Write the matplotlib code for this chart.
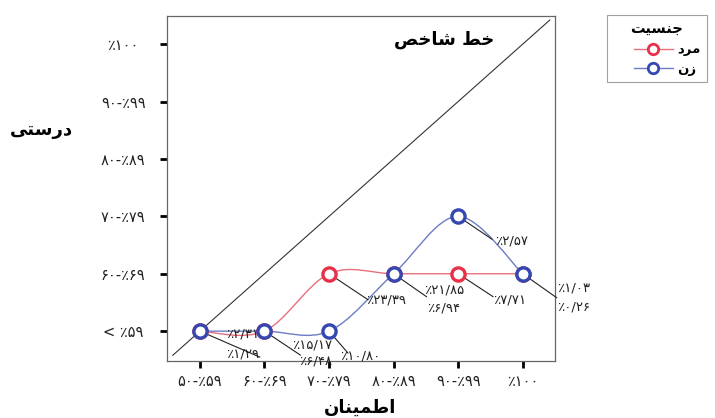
import matplotlib
matplotlib.use('Agg')
import matplotlib.pyplot as plt
from matplotlib.path import Path
from matplotlib.patches import PathPatch
from matplotlib.lines import Line2D
from matplotlib.legend_handler import HandlerLine2D

# ---------------- data ----------------
x_labels = ['۵۰-٪۵۹', '۶۰-٪۶۹', '۷۰-٪۷۹', '۸۰-٪۸۹', '۹۰-٪۹۹', '٪۱۰۰']
y_labels = ['< ٪۵۹', '۶۰-٪۶۹', '۷۰-٪۷۹', '۸۰-٪۸۹', '۹۰-٪۹۹', '٪۱۰۰']

male_x = [0, 1, 2, 3, 4, 5]
male_y = [0, 0, 1, 1, 1, 1]
female_x = [0, 1, 2, 3, 4, 5]
female_y = [0, 0, 0, 1, 2, 1]

ann_x = [0, 1, 2, 2, 3, 4, 4, 5]
ann_y = [0, 0, 0, 1, 1, 1, 2, 1]
ann_text = [['٪۲/۳۱', '٪۱/۲۹'], ['٪۱۵/۱۷', '٪۶/۴۸'], ['٪۱۰/۸۰'], ['٪۲۳/۳۹'],
            ['٪۲۱/۸۵', '٪۶/۹۴'], ['٪۷/۷۱'], ['٪۲/۵۷'], ['٪۱/۰۳', '٪۰/۲۶']]

diag = [-0.42, 5.42]

title_txt = 'خط شاخص'
ylabel_txt = 'درستی'
xlabel_txt = 'اطمینان'
legend_title = 'جنسیت'
male_label = 'مرد'
female_label = 'زن'

# ---------------- layout (pixels) ----------------
lead_off = [(60, -26), (36, -24), (19, -22), (39, -26), (33, -23), (35, -23), (34, -23), (34, -24)]
text_off = [[(43, -3), (43, -23)], [(48, -14), (51, -30)], [(31, -25)], [(57, -26)],
            [(51, -16), (50, -34)], [(51, -26)], [(53, -25)], [(51, -14), (51, -33)]]

# ---------------- minimal Arabic shaping ----------------
FORMS = {
    'ا': (0xFE8D, 0xFE8E, None, None),
    'د': (0xFEA9, 0xFEAA, None, None),
    'ر': (0xFEAD, 0xFEAE, None, None),
    'ز': (0xFEAF, 0xFEB0, None, None),
    'ط': (0xFEC1, 0xFEC2, 0xFEC3, 0xFEC4),
    'م': (0xFEE1, 0xFEE2, 0xFEE3, 0xFEE4),
    'ن': (0xFEE5, 0xFEE6, 0xFEE7, 0xFEE8),
    'س': (0xFEB1, 0xFEB2, 0xFEB3, 0xFEB4),
    'ش': (0xFEB5, 0xFEB6, 0xFEB7, 0xFEB8),
    'ت': (0xFE95, 0xFE96, 0xFE97, 0xFE98),
    'خ': (0xFEA5, 0xFEA6, 0xFEA7, 0xFEA8),
    'ج': (0xFE9D, 0xFE9E, 0xFE9F, 0xFEA0),
    'ص': (0xFEB9, 0xFEBA, 0xFEBB, 0xFEBC),
    'ی': (0xFEEF, 0xFEF0, 0xFEF3, 0xFEF4),
}


def shape(text):
    out = []
    for i, c in enumerate(text):
        if c not in FORMS:
            out.append(c)
            continue
        f = FORMS[c]
        prev = text[i - 1] if i > 0 else None
        nxt = text[i + 1] if i + 1 < len(text) else None
        jp = prev in FORMS and FORMS[prev][2] is not None
        jn = f[2] is not None and nxt in FORMS
        if jp and jn:
            g = f[3]
        elif jp:
            g = f[1]
        elif jn:
            g = f[2]
        else:
            g = f[0]
        out.append(chr(g))
    return ''.join(reversed(out))


def smooth_path(xs, ys):
    pts = list(zip(xs, ys))
    n = len(pts)
    verts = [pts[0]]
    codes = [Path.MOVETO]
    for i in range(n - 1):
        p0 = pts[max(i - 1, 0)]
        p1 = pts[i]
        p2 = pts[i + 1]
        p3 = pts[min(i + 2, n - 1)]
        c1 = (p1[0] + (p2[0] - p0[0]) / 6.0, p1[1] + (p2[1] - p0[1]) / 6.0)
        c2 = (p2[0] - (p3[0] - p1[0]) / 6.0, p2[1] - (p3[1] - p1[1]) / 6.0)
        verts += [c1, c2, p2]
        codes += [Path.CURVE4] * 3
    return Path(verts, codes)


class OffsetMarkerHandler(HandlerLine2D):
    """Legend handle whose line starts part-way in and whose marker sits left of centre."""
    def get_xdata(self, legend, xdescent, ydescent, width, height, fontsize):
        x0 = -xdescent
        return [x0 + 0.34 * width, x0 + width], [x0 + 0.55 * width]


plt.rcParams['font.family'] = ['DejaVu Sans']

W, H = 715, 418
fig = plt.figure(figsize=(W / 100, H / 100), dpi=100)
ax = fig.add_axes([167 / W, 57 / H, 388 / W, 345 / H])
ax.set_xlim(-0.51, 5.5)
ax.set_ylim(-0.52, 5.49)

red_line, red_mark = '#E8707C', '#E8304A'
blue_line, blue_mark = '#6C7CC4', '#3448B0'

# diagonal reference line
ax.plot(diag, diag, color='#333333', lw=0.8, zorder=2)

ax.add_patch(PathPatch(smooth_path(male_x, male_y), facecolor='none', edgecolor=red_line, lw=1.0, zorder=3))
ax.add_patch(PathPatch(smooth_path(female_x, female_y), facecolor='none', edgecolor=blue_line, lw=1.0, zorder=3))

ax.plot(male_x, male_y, 'o', mfc='white', mec=red_mark, ms=9.5, mew=2.4, zorder=5)
ax.plot(female_x, female_y, 'o', mfc='white', mec=blue_mark, ms=9.5, mew=2.4, zorder=6)

for px, py, texts, lo, tos in zip(ann_x, ann_y, ann_text, lead_off, text_off):
    ax.annotate('', xy=(px, py), xytext=lo, textcoords='offset pixels',
                arrowprops=dict(arrowstyle='-', lw=0.8, color='#222222', shrinkA=0, shrinkB=6),
                zorder=4)
    for t, to in zip(texts, tos):
        ax.annotate(t, xy=(px, py), xytext=to, textcoords='offset pixels',
                    ha='center', va='center', fontsize=9.5, color='#222222', zorder=7)

ax.set_xticks(range(len(x_labels)))
ax.set_xticklabels(x_labels, fontsize=10.5, color='#222222')
ax.set_yticks(range(len(y_labels)))
ax.set_yticklabels(y_labels, fontsize=10.5, color='#222222')
for lbl in ax.get_yticklabels():
    lbl.set_ha('center')
ax.tick_params(axis='y', direction='out', length=5, width=2, color='black', pad=26.6)
ax.tick_params(axis='x', direction='out', length=5, width=2, color='black', pad=4)
for s in ax.spines.values():
    s.set_color('#666666')
    s.set_linewidth(0.9)

fig.text(444 / W, 1 - 40 / H, shape(title_txt), ha='center', va='center', fontsize=13, fontweight='bold')
fig.text(41 / W, 1 - 130 / H, shape(ylabel_txt), ha='center', va='center', fontsize=13, fontweight='bold')
fig.text(360 / W, 1 - 408 / H, shape(xlabel_txt), ha='center', va='center', fontsize=13, fontweight='bold')

handles = [
    Line2D([], [], color=red_line, lw=1.0, marker='o', mfc='white', mec=red_mark, ms=7.5, mew=2),
    Line2D([], [], color=blue_line, lw=1.0, marker='o', mfc='white', mec=blue_mark, ms=7.5, mew=2),
]
leg = fig.legend(handles, [shape(male_label), shape(female_label)], loc='upper left',
                 bbox_to_anchor=(607 / W, 1 - 15 / H), title=shape(legend_title),
                 title_fontproperties={'weight': 'bold', 'size': 10.5},
                 prop={'weight': 'bold', 'size': 9.5}, frameon=True, fancybox=False,
                 edgecolor='#888888', handlelength=4.5, borderpad=0.5, labelspacing=0.5,
                 handletextpad=0.3, borderaxespad=0,
                 handler_map={Line2D: OffsetMarkerHandler()})
leg.get_frame().set_linewidth(0.8)

fig.savefig('out.png', dpi=100)
